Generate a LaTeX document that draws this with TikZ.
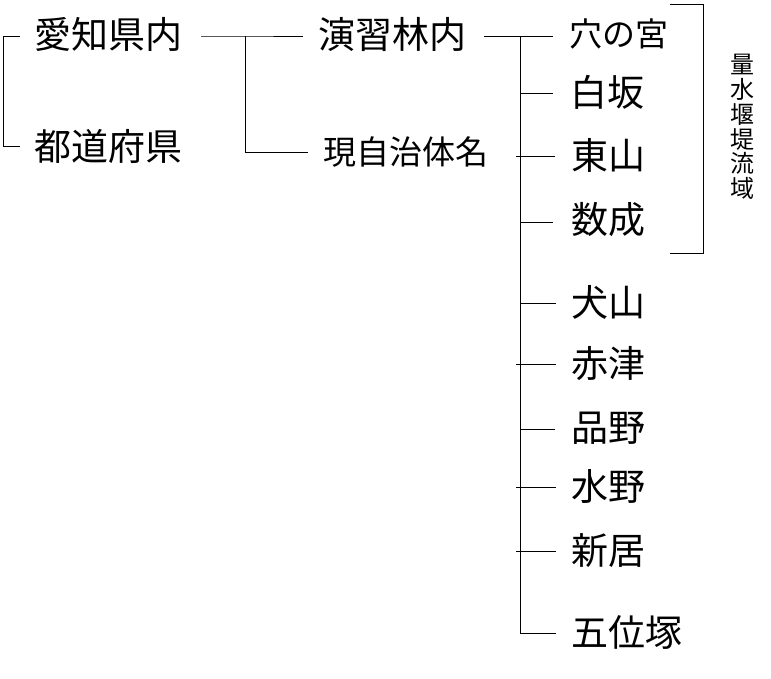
\documentclass[tikz,border=0pt]{standalone}
\usepackage{fontspec}
\newfontfamily\cjk{Noto Sans CJK JP}
\begin{document}
\begin{tikzpicture}[x=1pt,y=-1pt,
  lbl/.style={anchor=west,inner sep=0pt,font=\cjk\fontsize{37}{40}\selectfont},
  sml/.style={anchor=west,inner sep=0pt,font=\cjk\fontsize{33}{36}\selectfont},
  ln/.style={line width=0.9pt,black}]
\useasboundingbox (0,0) rectangle (771,678);
% left level
\node[lbl] (aichi) at (34,34) {愛知県内};
\node[lbl] (todo) at (34,146) {都道府県};
\coordinate (lt) at (20,36);
\coordinate (lb) at (20,146);
\draw[ln] (lt) -- (3,36) -- (3,146) -- (lb);
% middle level
\node[lbl] (enshu) at (318,34) {演習林内};
\node[sml] (gen) at (323,152) {現自治体名};
\coordinate (m1) at (245,36);
\draw[ln] (201,36) -- (m1) -- (303,36);
\draw[ln] (m1) -- (245,152) -- (308,152);
% right level
\node[sml] (ana) at (569,34) {穴の宮};
\node[lbl] (shira) at (570,92) {白坂};
\node[lbl] (higa) at (571,155) {東山};
\node[lbl] (kazu) at (571,220) {数成};
\node[lbl] (inu) at (571,302) {犬山};
\node[lbl] (aka) at (571,364) {赤津};
\node[lbl] (shina) at (571,428) {品野};
\node[lbl] (mizu) at (571,486) {水野};
\node[lbl] (nii) at (571,551) {新居};
\node[lbl] (goi) at (571,632) {五位塚};
\coordinate (tr) at (520,36);
\draw[ln] (484,36) -- (553,36);
\draw[ln] (tr) -- (520,633);
\draw[ln] (520,93) -- (553,93);
\draw[ln] (516,156) -- (555,156);
\draw[ln] (520,222) -- (553,222);
\draw[ln] (520,303) -- (556,303);
\draw[ln] (516,364) -- (556,364);
\draw[ln] (520,429) -- (555,429);
\draw[ln] (516,487) -- (556,487);
\draw[ln] (516,551) -- (556,551);
\draw[ln] (520,633) -- (556,633);
% right bracket
\draw[ln] (670,4) -- (703,4) -- (703,253) -- (670,253);
\node[inner sep=0pt,align=center,font=\cjk\fontsize{24}{24.8}\selectfont] (ryu) at (742,127) {量\\水\\堰\\堤\\流\\域};
\end{tikzpicture}
\end{document}
